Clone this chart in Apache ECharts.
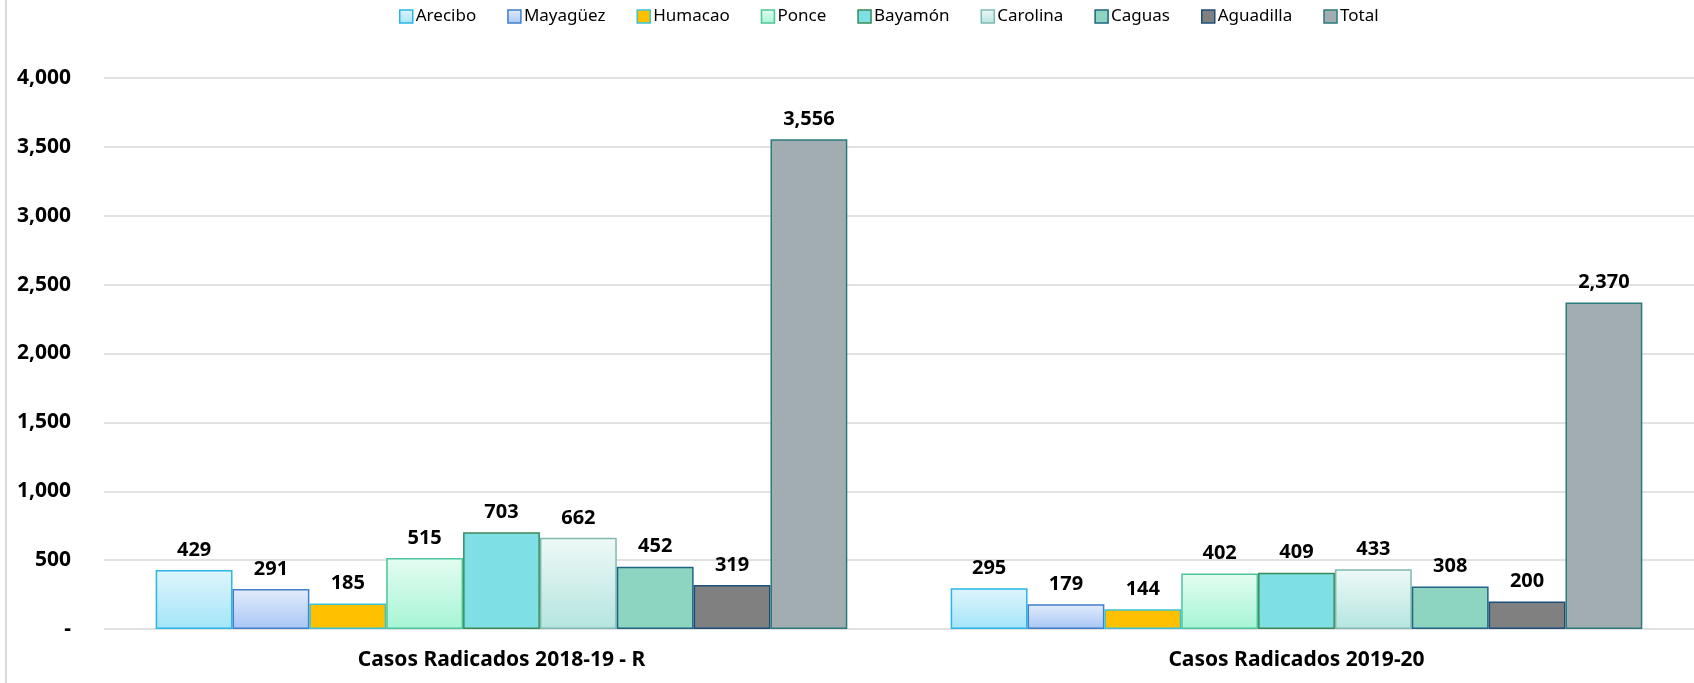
<!DOCTYPE html>
<html><head><meta charset="utf-8">
<script src="https://cdn.jsdelivr.net/npm/echarts@6/dist/echarts.min.js"></script>
<style>html,body{margin:0;padding:0;background:#fff}#c{width:1694px;height:683px}</style>
</head><body><div id="c"></div>
<script>
const categories = ['Casos Radicados 2018-19 - R', 'Casos Radicados 2019-20'];
const seriesNames = ['Arecibo','Mayagüez','Humacao','Ponce','Bayamón','Carolina','Caguas','Aguadilla','Total'];
const arecibo = [429, 295];
const mayaguez = [291, 179];
const humacao = [185, 144];
const ponce = [515, 402];
const bayamon = [703, 409];
const carolina = [662, 433];
const caguas = [452, 308];
const aguadilla = [319, 200];
const total = [3556, 2370];
const values = [arecibo, mayaguez, humacao, ponce, bayamon, carolina, caguas, aguadilla, total];

function grad(a,b){return new echarts.graphic.LinearGradient(0,0,0,1,[{offset:0,color:a},{offset:1,color:b}]);}
const fills = [
  grad('#dff5fc','#a3e5f8'),
  grad('#e3ecfb','#a8c6f6'),
  '#ffc000',
  grad('#e4fcf1','#a6f5d5'),
  '#7ee0e5',
  grad('#eef9f7','#b5e5df'),
  '#8dd5c0',
  '#808080',
  '#a2adb2'
];
const borders = ['#2ab5e6','#3f7fcb','#3cc3d3','#4bc59a','#3a8a58','#80b9b1','#1f6484','#1f4e79','#2a7a7c'];
const font = '"Noto Sans", "Open Sans", sans-serif';

const chart = echarts.init(document.getElementById('c'));
chart.setOption({
  animation:false,
  textStyle:{fontFamily:font},
  legend:{
    top:3, left:394, itemWidth:13, itemHeight:13, itemGap:31,
    icon:'rect',
    textStyle:{fontSize:17,color:'#000',fontFamily:font, padding:[0,0,0,-2]},
    data: seriesNames.map((n,i)=>({name:n, itemStyle:{borderColor:borders[i],borderWidth:1.5}}))
  },
  grid:{left:104,right:0,top:78,bottom:54,containLabel:false},
  xAxis:{
    type:'category', data:categories,
    axisLine:{show:false}, axisTick:{show:false},
    axisLabel:{fontSize:21,fontWeight:'bold',color:'#000',margin:21,fontFamily:font}
  },
  yAxis:{
    type:'value', min:0, max:4000, interval:500,
    axisLine:{show:false}, axisTick:{show:false},
    splitLine:{lineStyle:{color:'#d9d9d9',width:1.5}},
    axisLabel:{fontSize:21,fontWeight:'bold',color:'#000',margin:33,fontFamily:font,
      formatter:v=> v===0 ? '-' : v.toLocaleString('en-US')}
  },
  series: seriesNames.map((n,i)=>({
    name:n, type:'bar', data:values[i],
    barGap:'0%', barCategoryGap:'13%',
    itemStyle:{color:fills[i], borderColor:borders[i], borderWidth:1.5},
    label:{show:true, position:'top', distance:10, fontSize:20, fontWeight:'bold', color:'#000',
      fontFamily:font, formatter:p=>p.value.toLocaleString('en-US')}
  })),
  graphic:[{type:'line', shape:{x1:6,y1:0,x2:6,y2:683}, style:{stroke:'#d9d9d9',lineWidth:2}}]
});
</script></body></html>
